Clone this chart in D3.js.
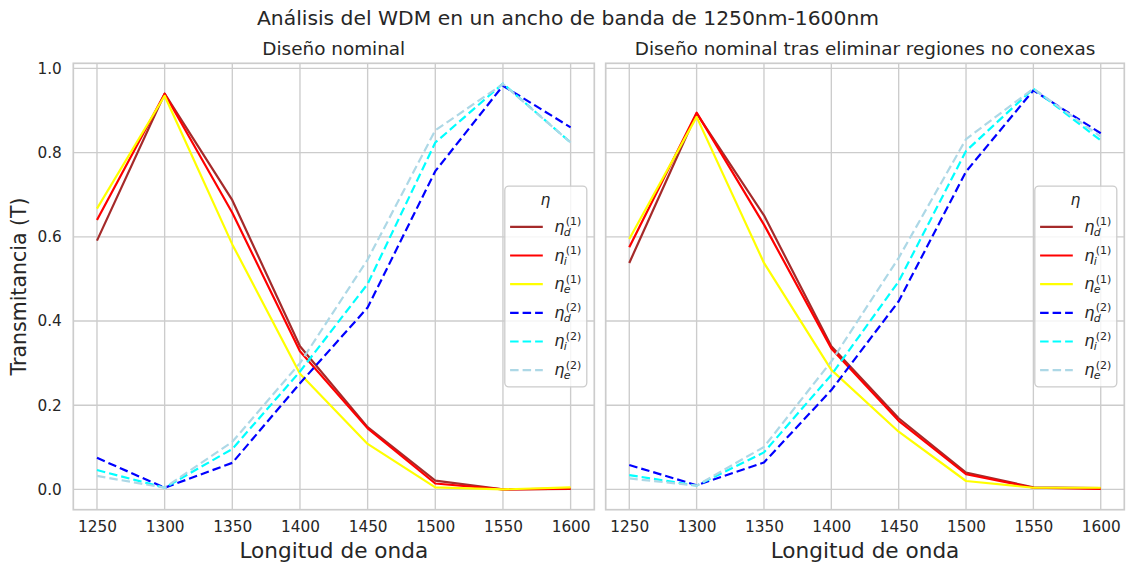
<!DOCTYPE html>
<html>
<head>
<meta charset="utf-8">
<script src="https://cdn.jsdelivr.net/npm/d3@7"></script>
<style>
  html, body { margin: 0; padding: 0; background: #ffffff; }
  svg { display: block; font-family: "DejaVu Sans", sans-serif; }
</style>
</head>
<body>
<svg id="chart" width="1127" height="565"></svg>
<script>
// Wavelength samples (nm) and x tick values
const wavelengths = [1250, 1300, 1350, 1400, 1450, 1500, 1550, 1600];
const xTicks = [1250, 1300, 1350, 1400, 1450, 1500, 1550, 1600];
const yTicks = [0.0, 0.2, 0.4, 0.6, 0.8, 1.0];

// Nominal design: transmittance of each port
const d1Nominal = [0.591, 0.940, 0.687, 0.340, 0.148, 0.021, 0.000, 0.001];
const i1Nominal = [0.640, 0.940, 0.657, 0.328, 0.145, 0.014, 0.000, 0.002];
const e1Nominal = [0.667, 0.935, 0.582, 0.275, 0.108, 0.005, 0.000, 0.005];
const d2Nominal = [0.075, 0.004, 0.063, 0.252, 0.432, 0.756, 0.959, 0.860];
const i2Nominal = [0.046, 0.004, 0.096, 0.280, 0.488, 0.824, 0.964, 0.824];
const e2Nominal = [0.032, 0.004, 0.113, 0.300, 0.546, 0.853, 0.963, 0.824];

// Nominal design after removing non-connected regions
const d1Connected = [0.538, 0.893, 0.651, 0.340, 0.169, 0.040, 0.005, 0.003];
const i1Connected = [0.575, 0.895, 0.629, 0.335, 0.163, 0.036, 0.004, 0.001];
const e1Connected = [0.595, 0.885, 0.538, 0.284, 0.137, 0.020, 0.004, 0.004];
const d2Connected = [0.058, 0.010, 0.064, 0.236, 0.447, 0.755, 0.948, 0.846];
const i2Connected = [0.034, 0.009, 0.088, 0.272, 0.494, 0.804, 0.952, 0.829];
const e2Connected = [0.026, 0.009, 0.101, 0.304, 0.550, 0.832, 0.952, 0.838];

// Series description: subscript, superscript, colour, dashed
const seriesSub = ["d", "i", "e", "d", "i", "e"];
const seriesSup = ["(1)", "(1)", "(1)", "(2)", "(2)", "(2)"];
const seriesColors = ["brown", "red", "yellow", "blue", "cyan", "lightblue"];
const seriesDashed = [false, false, false, true, true, true];

const panelTitles = ["Diseño nominal", "Diseño nominal tras eliminar regiones no conexas"];
const panelSeries = [
  [d1Nominal, i1Nominal, e1Nominal, d2Nominal, i2Nominal, e2Nominal],
  [d1Connected, i1Connected, e1Connected, d2Connected, i2Connected, e2Connected]
];

const TEXT = "#262626";
const GRID = "#cccccc";
const svg = d3.select("#chart");

// Layout of the two side-by-side axes
const axTop = 63.3, axBottom = 509.7;
const panels = [
  { left: 73.3, right: 594.3 },
  { left: 605.7, right: 1124.3 }
];

// Shared y range with 5% margins as in the original plotting library
const allVals = panelSeries.flat(2);
const [yMin, yMax] = d3.extent(allVals);
const yPad = (yMax - yMin) * 0.05;
const y = d3.scaleLinear().domain([yMin - yPad, yMax + yPad]).range([axBottom, axTop]);
const xPad = (d3.max(wavelengths) - d3.min(wavelengths)) * 0.05;

// Figure title
svg.append("text")
  .attr("x", 568).attr("y", 25)
  .attr("text-anchor", "middle")
  .attr("font-size", 20.3).attr("fill", TEXT)
  .text("Análisis del WDM en un ancho de banda de 1250nm-1600nm");

panels.forEach((p, pi) => {
  const x = d3.scaleLinear()
    .domain([d3.min(wavelengths) - xPad, d3.max(wavelengths) + xPad])
    .range([p.left, p.right]);
  const g = svg.append("g");

  // grid
  g.append("g").selectAll("line").data(xTicks).join("line")
    .attr("x1", d => x(d)).attr("x2", d => x(d))
    .attr("y1", axTop).attr("y2", axBottom)
    .attr("stroke", GRID).attr("stroke-width", 1.35);
  g.append("g").selectAll("line").data(yTicks).join("line")
    .attr("x1", p.left).attr("x2", p.right)
    .attr("y1", d => y(d)).attr("y2", d => y(d))
    .attr("stroke", GRID).attr("stroke-width", 1.35);

  // x axis tick labels
  const xAxis = g.append("g")
    .attr("transform", `translate(0,${axBottom})`)
    .call(d3.axisBottom(x).tickValues(xTicks).tickSize(0).tickPadding(11).tickFormat(d3.format("d")));
  xAxis.select(".domain").remove();
  xAxis.selectAll("text").attr("font-size", 15.3).attr("fill", TEXT).attr("font-family", "DejaVu Sans");

  // y axis tick labels (left panel only, shared axis)
  if (pi === 0) {
    const yAxis = g.append("g")
      .attr("transform", `translate(${p.left},0)`)
      .call(d3.axisLeft(y).tickValues(yTicks).tickSize(0).tickPadding(11.5).tickFormat(d3.format(".1f")));
    yAxis.select(".domain").remove();
    yAxis.selectAll("text").attr("font-size", 15.3).attr("fill", TEXT).attr("font-family", "DejaVu Sans");
  }

  // series lines
  const line = d3.line().x((d, i) => x(wavelengths[i])).y(d => y(d));
  panelSeries[pi].forEach((vals, si) => {
    g.append("path")
      .datum(vals)
      .attr("d", line)
      .attr("fill", "none")
      .attr("stroke", seriesColors[si])
      .attr("stroke-width", 2.2)
      .attr("stroke-linejoin", "round")
      .attr("stroke-dasharray", seriesDashed[si] ? "8.5,4" : null);
  });

  // frame
  g.append("rect")
    .attr("x", p.left).attr("y", axTop)
    .attr("width", p.right - p.left).attr("height", axBottom - axTop)
    .attr("fill", "none").attr("stroke", GRID).attr("stroke-width", 1.7);

  // panel title and x label
  const cx = (p.left + p.right) / 2;
  g.append("text").attr("x", cx).attr("y", 55)
    .attr("text-anchor", "middle").attr("font-size", 18.4).attr("fill", TEXT)
    .text(panelTitles[pi]);
  g.append("text").attr("x", cx).attr("y", 558)
    .attr("text-anchor", "middle").attr("font-size", 21.6).attr("fill", TEXT)
    .text("Longitud de onda");

  // legend (center right)
  const lw = 82, lh = 200.7;
  const L = p.right - 7.5 - lw;
  const T = (axTop + axBottom) / 2 - lh / 2;
  const leg = g.append("g");
  leg.append("rect")
    .attr("x", L).attr("y", T).attr("width", lw).attr("height", lh)
    .attr("rx", 4).attr("ry", 4)
    .attr("fill", "white").attr("fill-opacity", 0.8)
    .attr("stroke", GRID).attr("stroke-width", 1.3);
  leg.append("text")
    .attr("x", L + 40.5).attr("y", T + 18.5)
    .attr("text-anchor", "middle").attr("font-size", 15.5)
    .attr("font-style", "italic").attr("fill", TEXT)
    .text("η");
  seriesColors.forEach((c, si) => {
    const ry = T + 40.7 + si * 28.66;
    leg.append("line")
      .attr("x1", L + 5.3).attr("x2", L + 38)
      .attr("y1", ry).attr("y2", ry)
      .attr("stroke", c).attr("stroke-width", 2.2)
      .attr("stroke-dasharray", seriesDashed[si] ? "8.5,4" : null);
    const t = leg.append("text").attr("fill", TEXT);
    const eta = t.append("tspan")
      .attr("x", L + 49.5).attr("y", ry + 5)
      .attr("font-size", 16).attr("font-style", "italic")
      .text("η");
    const w = eta.node().getComputedTextLength();
    t.append("tspan")
      .attr("x", L + 49.5 + w + 1.2).attr("y", ry - 1.5)
      .attr("font-size", 11).text(seriesSup[si]);
    t.append("tspan")
      .attr("x", L + 49.5 + w - 0.8).attr("y", ry + 9)
      .attr("font-size", 11).attr("font-style", "italic").text(seriesSub[si]);
  });
});

// shared y label
svg.append("text")
  .attr("transform", `translate(26,${(axTop + axBottom) / 2}) rotate(-90)`)
  .attr("text-anchor", "middle").attr("font-size", 20.5).attr("fill", TEXT)
  .text("Transmitancia (T)");
</script>
</body>
</html>
